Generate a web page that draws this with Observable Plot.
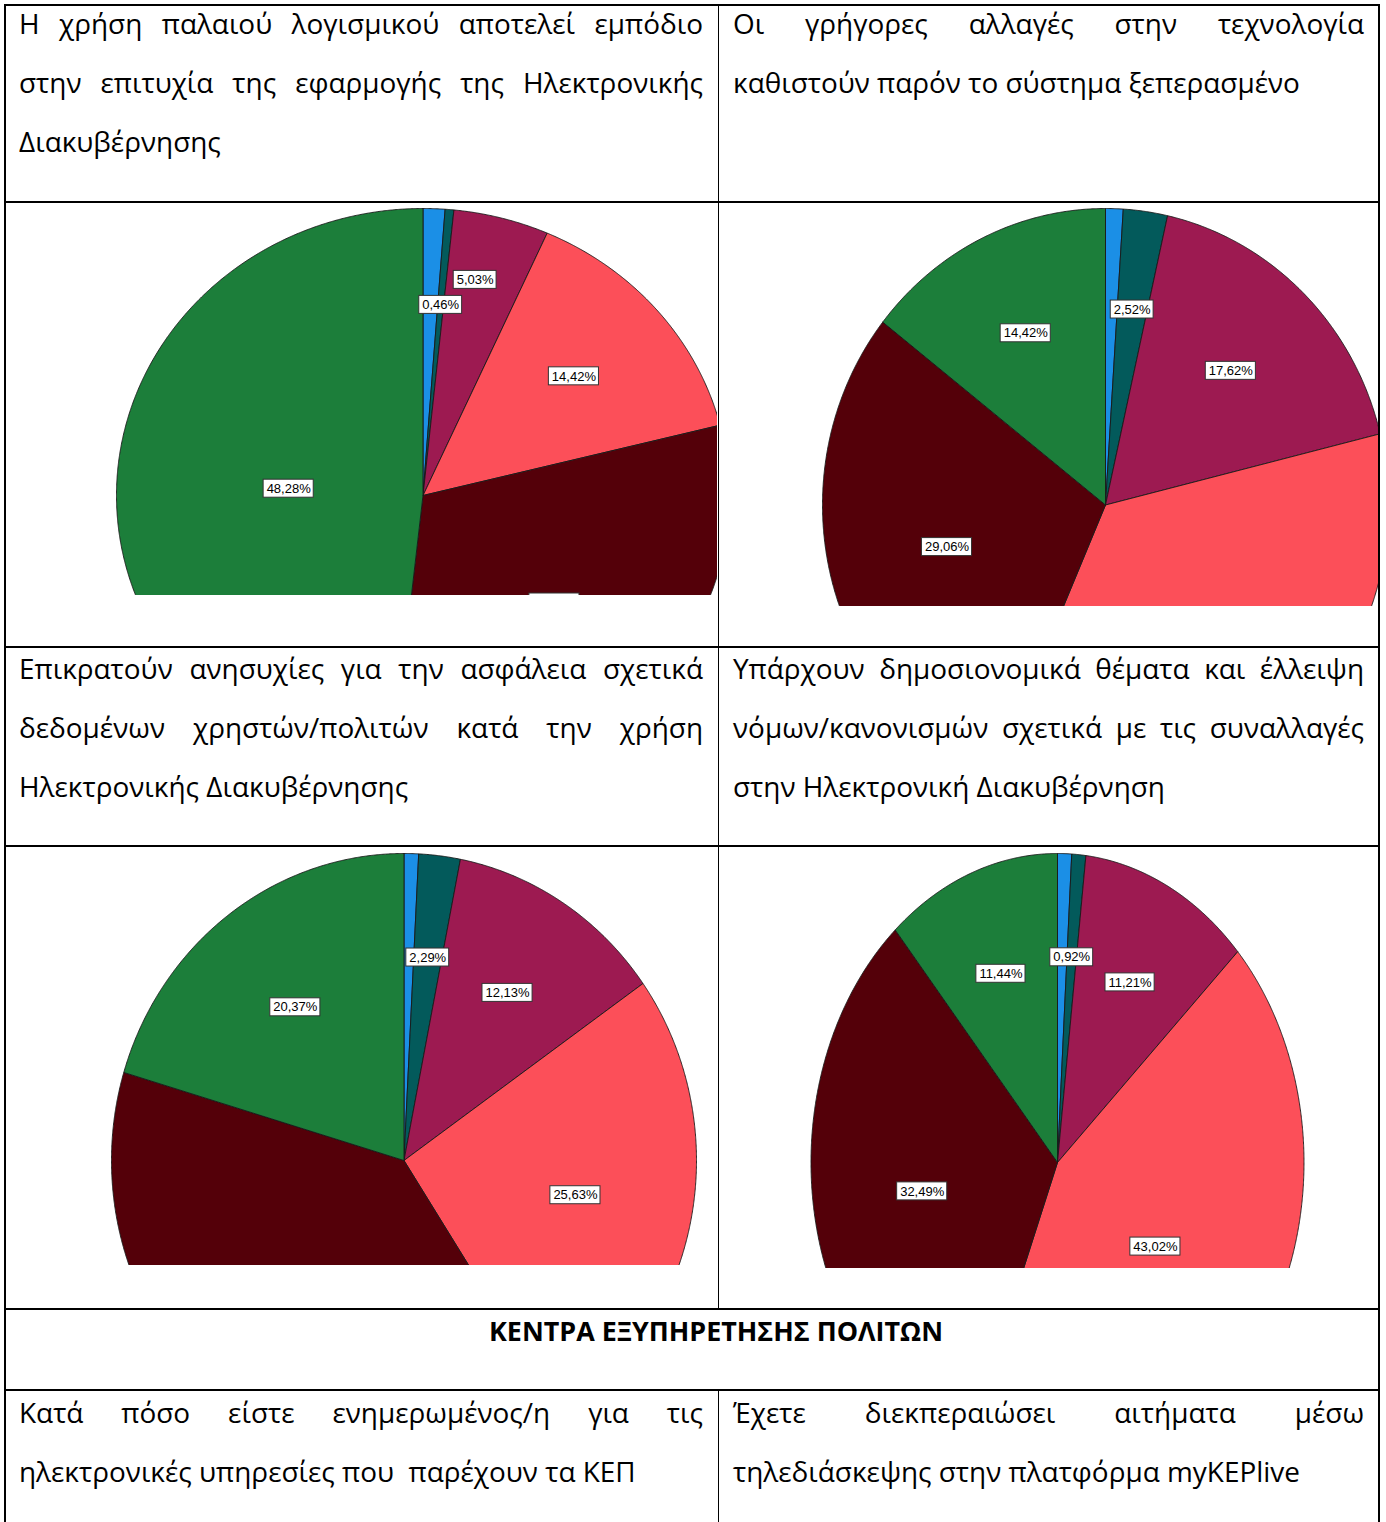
<!DOCTYPE html>
<html>
<head>
<meta charset="utf-8">
<script src="https://cdn.jsdelivr.net/npm/d3@7"></script>
<script src="https://cdn.jsdelivr.net/npm/@observablehq/plot@0.6"></script>
<style>
  html, body { margin: 0; padding: 0; background: #fff; }
  #page { position: relative; width: 1386px; height: 1522px; overflow: hidden; background: #fff; color: #000; }
  .rule { position: absolute; background: #000; }
  .tl { position: absolute; font-family: "Open Sans", sans-serif; line-height: 59px; height: 59px; }
  .tl.j { text-align: justify; text-align-last: justify; white-space: normal; }
  .tl.l { text-align: left; white-space: pre; }
  .tl.c { text-align: center; white-space: pre; font-weight: bold; }
  .pie { position: absolute; }
</style>
</head>
<body>
<div id="page"></div>
<script>
// ---------------- DATA ----------------
const sliceKeys = ["Κ1", "Κ2", "Κ3", "Κ4", "Κ5", "Κ6"];
const sliceColors = ["#1b8fe6", "#035a5b", "#9d1a51", "#fc4f59", "#540009", "#1c7e3a"];
const labelShown = [false, true, true, true, true, true];

const pie1Values = [1.15, 0.46, 5.03, 14.42, 30.66, 48.28];
const pie2Values = [1.00, 2.52, 17.62, 35.38, 29.06, 14.42];
const pie3Values = [0.80, 2.29, 12.13, 25.63, 38.78, 20.37];
const pie4Values = [0.92, 0.92, 11.21, 43.02, 32.49, 11.44];

const text1 = ["Η χρήση παλαιού λογισμικού αποτελεί εμπόδιο", "στην επιτυχία της εφαρμογής της Ηλεκτρονικής", "Διακυβέρνησης"];
const text2 = ["Οι γρήγορες αλλαγές στην τεχνολογία", "καθιστούν παρόν το σύστημα ξεπερασμένο"];
const text3 = ["Επικρατούν ανησυχίες για την ασφάλεια σχετικά", "δεδομένων χρηστών/πολιτών κατά την χρήση", "Ηλεκτρονικής Διακυβέρνησης"];
const text4 = ["Υπάρχουν δημοσιονομικά θέματα και έλλειψη", "νόμων/κανονισμών σχετικά με τις συναλλαγές", "στην Ηλεκτρονική Διακυβέρνηση"];
const headerText = "ΚΕΝΤΡΑ ΕΞΥΠΗΡΕΤΗΣΗΣ ΠΟΛΙΤΩΝ";
const text5 = ["Κατά πόσο είστε ενημερωμένος/η για τις", "ηλεκτρονικές υπηρεσίες που  παρέχουν τα ΚΕΠ"];
const text6 = ["Έχετε διεκπεραιώσει αιτήματα μέσω", "τηλεδιάσκεψης στην πλατφόρμα myKEPlive"];

// ---------------- LAYOUT ----------------
const page = document.getElementById("page");
const FONT = '"Open Sans"';
const canvas = document.createElement("canvas");
const ctx = canvas.getContext("2d");
function measure(str, font) { ctx.font = font; return ctx.measureText(str).width; }

// fit body font so that a reference line has the width seen in the picture
const bodySize = 100 * 567 / measure(text2[1], `100px ${FONT}`);
const headSize = 100 * 454 / measure(headerText, `bold 100px ${FONT}`);
const LH = 59, ASC = 1.069, DESC = 0.293;
function baselineOffset(fs) { return (LH - (ASC + DESC) * fs) / 2 + ASC * fs; }

function rule(x, y, w, h) {
  const d = document.createElement("div");
  d.className = "rule";
  Object.assign(d.style, { left: x + "px", top: y + "px", width: w + "px", height: h + "px" });
  page.appendChild(d);
}
// table borders
rule(4, 4, 1376, 2);
rule(4, 4, 1.5, 1522);
rule(1378, 4, 1.5, 1522);
rule(717.5, 4, 1.3, 1306);
rule(717.5, 1390, 1.3, 140);
for (const y of [202, 647, 846, 1309, 1390]) rule(4, y - 1.2, 1376, 2.4);

function textBlock(lines, x, w, baseline0) {
  lines.forEach((t, i) => {
    const d = document.createElement("div");
    d.className = "tl " + (i < lines.length - 1 ? "j" : "l");
    d.textContent = t;
    Object.assign(d.style, {
      left: x + "px", width: w + "px", fontSize: bodySize + "px",
      top: (baseline0 + i * LH - baselineOffset(bodySize)) + "px"
    });
    page.appendChild(d);
  });
}
textBlock(text1, 19, 684, 34);
textBlock(text2, 733, 631, 34);
textBlock(text3, 19, 684, 679);
textBlock(text4, 733, 631, 679);
textBlock(text5, 19, 684, 1423);
textBlock(text6, 733, 631, 1423);
{
  const d = document.createElement("div");
  d.className = "tl c";
  d.textContent = headerText;
  Object.assign(d.style, { left: "30px", width: "1372px", fontSize: headSize + "px",
    top: (1341 - baselineOffset(headSize)) + "px" });
  page.appendChild(d);
}

// ---------------- PIES ----------------
const pieGeom = [
  { values: pie1Values, left: 6, top: 204, w: 711, h: 442, cut: 595, cx: 422.5, cy: 495, rx: 306.5, ry: 287, font: '"Liberation Sans", Arial, sans-serif' },
  { values: pie2Values, left: 719, top: 204, w: 659, h: 442, cut: 606, cx: 1105, cy: 504.5, rx: 283, ry: 296.5, font: '"Liberation Sans", Arial, sans-serif' },
  { values: pie3Values, left: 6, top: 848, w: 711, h: 460, cut: 1265, cx: 403.5, cy: 1160, rx: 292.5, ry: 307, font: '"Liberation Sans", Arial, sans-serif' },
  { values: pie4Values, left: 719, top: 848, w: 659, h: 460, cut: 1268, cx: 1057, cy: 1162, rx: 246.5, ry: 309, font: '"Liberation Sans Narrow", "Arial Narrow", "Liberation Sans", Arial, sans-serif' }
];
const fmt = v => v.toFixed(2).replace(".", ",") + "%";
const LABEL_FS = 13, BOX_H = 18;

function pieChart(g) {
  const total = d3.sum(g.values);
  let acc = 0;
  const slices = g.values.map((v, i) => {
    const a0 = acc / total * 2 * Math.PI; acc += v;
    const a1 = acc / total * 2 * Math.PI;
    return { key: sliceKeys[i], value: v, a0, a1, show: labelShown[i] };
  });
  const pts = [];
  for (const s of slices) {
    const n = Math.max(2, Math.ceil((s.a1 - s.a0) / 0.004));
    pts.push({ key: s.key, x: 0, y: 0 });
    for (let k = 0; k <= n; k++) {
      const a = s.a0 + (s.a1 - s.a0) * k / n;
      pts.push({ key: s.key, x: Math.sin(a), y: Math.cos(a) });
    }
    pts.push({ key: s.key, x: 0, y: 0 });
  }
  // labels at the sector centroid, nudged up when they collide
  const placed = [];
  for (const s of slices) {
    if (!s.show) continue;
    const th = s.a1 - s.a0, mid = (s.a0 + s.a1) / 2;
    const d = th > 1e-6 ? 4 * Math.sin(th / 2) / (3 * th) : 2 / 3;
    const label = fmt(s.value);
    const bw = measure(label, `${LABEL_FS}px ${g.font}`) + 6;
    let px = d * Math.sin(mid) * g.rx, py = -d * Math.cos(mid) * g.ry;
    for (const o of placed) {
      if (Math.abs(px - o.px) < (bw + o.bw) / 2 && Math.abs(py - o.py) < BOX_H) py = o.py - BOX_H - 7;
    }
    placed.push({ px, py, bw, label });
  }
  const labels = placed.map(p => ({
    label: p.label, x: p.px / g.rx, y: -p.py / g.ry,
    x1: (p.px - p.bw / 2) / g.rx, x2: (p.px + p.bw / 2) / g.rx,
    y1: -(p.py - BOX_H / 2) / g.ry, y2: -(p.py + BOX_H / 2) / g.ry
  }));

  const frameBottom = g.cut - g.top;
  const svg = Plot.plot({
    width: g.w, height: g.h,
    marginTop: 0, marginLeft: 0, marginRight: 0, marginBottom: g.h - frameBottom,
    x: { domain: [-1, 1], range: [g.cx - g.rx - g.left, g.cx + g.rx - g.left], axis: null },
    y: { domain: [-1, 1], range: [g.cy + g.ry - g.top, g.cy - g.ry - g.top], axis: null },
    color: { domain: sliceKeys, range: sliceColors },
    style: { background: "transparent" },
    marks: [
      Plot.line(pts, { x: "x", y: "y", z: "key", fill: "key", stroke: "#1a1a1a", strokeWidth: 0.9, strokeLinejoin: "round", clip: true }),
      Plot.rect(labels, { x1: "x1", x2: "x2", y1: "y1", y2: "y2", fill: "white", stroke: "#333", strokeWidth: 1, clip: true }),
      Plot.text(labels, { x: "x", y: "y", text: "label", fontSize: LABEL_FS, fontFamily: g.font, fill: "#000", clip: true })
    ]
  });
  svg.classList.add("pie");
  Object.assign(svg.style, { position: "absolute", left: g.left + "px", top: g.top + "px" });
  page.appendChild(svg);
}
pieGeom.forEach(pieChart);
</script>
</body>
</html>
